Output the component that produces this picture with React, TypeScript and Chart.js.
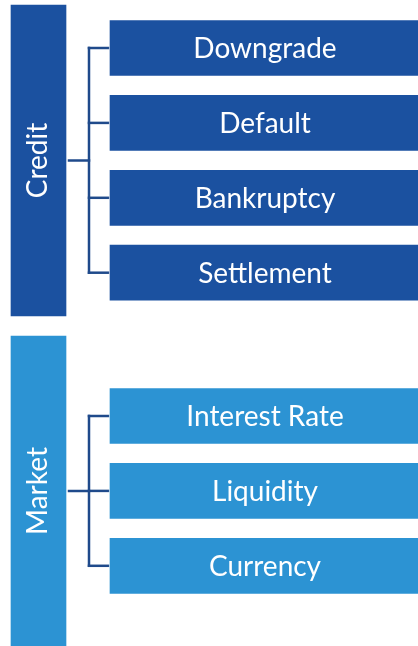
import React, { useEffect, useRef } from "react";
import { Chart, registerables } from "chart.js";

Chart.register(...registerables);

// ---- data ----
const categories = ["Credit", "Market"];
const creditItems = ["Downgrade", "Default", "Bankruptcy", "Settlement"];
const marketItems = ["Interest Rate", "Liquidity", "Currency"];
const groups = [creditItems, marketItems];

// ---- layout (pixels on a 418x646 canvas) ----
const W = 418;
const H = 646;
const ROW_PITCH = 74.9;
const BOX_H = 57;
const BOX_X0 = 109;
const BOX_X1 = 419;
const CAT_X0 = 10;
const CAT_X1 = 67;
const TRUNK_X = 89;
const STUB_X0 = 69;
const GROUP_TOP = [48, 416];
const CAT_SPAN = [
  [4, 317],
  [335, 647],
];
const COLORS = ["#1B51A0", "#2C93D3"];
const LINE_COLOR = "#1F4A8B";
const FONT = "Lato, 'Open Sans', sans-serif";

export default function App() {
  const ref = useRef<HTMLCanvasElement | null>(null);

  useEffect(() => {
    document.body.style.margin = "0";
    const canvas = ref.current;
    if (!canvas) return;

    const datasets: any[] = [];
    groups.forEach((items, g) => {
      const [t, b] = CAT_SPAN[g];
      const cy = (t + b) / 2;
      // category block
      datasets.push({
        type: "bar",
        label: categories[g],
        data: [{ y: cy, x: [CAT_X0, CAT_X1] }],
        backgroundColor: COLORS[g],
        borderColor: "rgba(255,255,255,0.3)",
        borderWidth: 1,
        borderSkipped: false,
        barThickness: b - t,
        grouped: false,
        labelKind: "cat",
        labels: [categories[g]],
      });
      // item boxes
      const ys = items.map((_, i) => GROUP_TOP[g] + i * ROW_PITCH);
      datasets.push({
        type: "bar",
        label: categories[g] + " items",
        data: ys.map((y) => ({ y, x: [BOX_X0, BOX_X1] })),
        backgroundColor: COLORS[g],
        borderColor: "rgba(255,255,255,0.3)",
        borderWidth: 1,
        borderSkipped: false,
        barThickness: BOX_H,
        grouped: false,
        labelKind: "item",
        labels: items,
      });
      // connectors
      const segs: { x: number; y: number }[][] = [
        [
          { x: TRUNK_X, y: ys[0] },
          { x: TRUNK_X, y: ys[ys.length - 1] },
        ],
        [
          { x: STUB_X0, y: cy },
          { x: TRUNK_X, y: cy },
        ],
        ...ys.map((y) => [
          { x: TRUNK_X, y },
          { x: BOX_X0 - 1, y },
        ]),
      ];
      segs.forEach((s) =>
        datasets.push({
          type: "line",
          data: s,
          borderColor: LINE_COLOR,
          borderWidth: 2.5,
          pointRadius: 0,
          fill: false,
          tension: 0,
          borderCapStyle: "square",
        })
      );
    });

    const labelPlugin = {
      id: "labels",
      afterDatasetsDraw(chart: any) {
        const ctx = chart.ctx;
        chart.data.datasets.forEach((ds: any, di: number) => {
          if (!ds.labels) return;
          const meta = chart.getDatasetMeta(di);
          meta.data.forEach((el: any, i: number) => {
            const p = el.getCenterPoint();
            ctx.save();
            ctx.fillStyle = "#ffffff";
            ctx.textAlign = "center";
            ctx.textBaseline = "middle";
            ctx.font = `28px ${FONT}`;
            if (ds.labelKind === "cat") {
              ctx.translate(p.x - 1, p.y);
              ctx.rotate(-Math.PI / 2);
              ctx.fillText(ds.labels[i], 0, 0);
            } else {
              ctx.fillText(ds.labels[i], 265, p.y + 1);
            }
            ctx.restore();
          });
        });
      },
    };

    const chart = new Chart(canvas, {
      type: "bar",
      data: { datasets },
      options: {
        indexAxis: "y",
        animation: false,
        responsive: false,
        devicePixelRatio: 1,
        layout: { padding: 0 },
        plugins: { legend: { display: false }, tooltip: { enabled: false } },
        scales: {
          x: { type: "linear", min: 0, max: W, display: false, offset: false, grace: 0 },
          y: { type: "linear", min: 0, max: H, reverse: true, display: false, offset: false, grace: 0 },
        },
      },
      plugins: [labelPlugin],
    } as any);
    return () => chart.destroy();
  }, []);

  return (
    <div style={{ width: W, height: H }}>
      <canvas ref={ref} width={W} height={H} />
    </div>
  );
}
